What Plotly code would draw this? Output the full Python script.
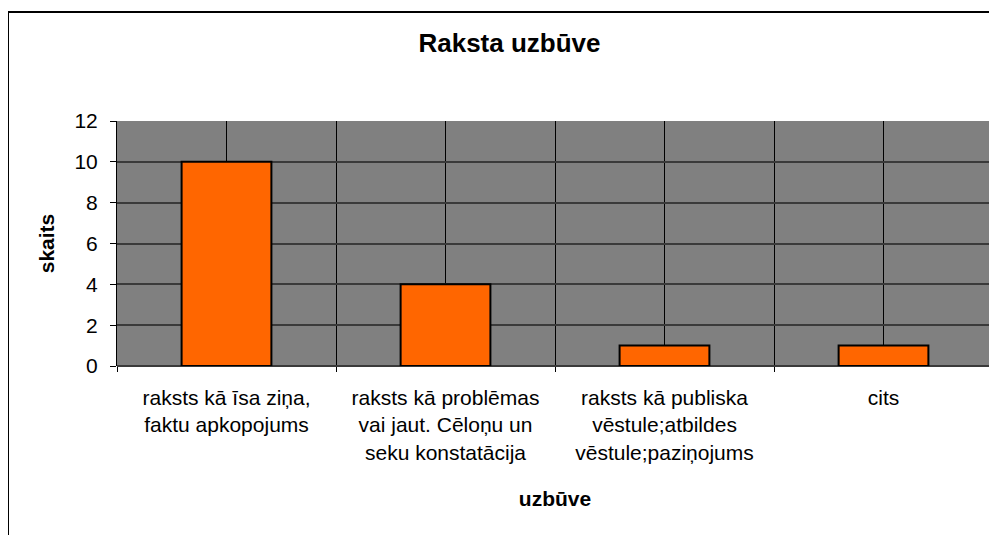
import plotly.graph_objects as go

categories = [
    "raksts kā īsa ziņa,<br>faktu apkopojums",
    "raksts kā problēmas<br>vai jaut. Cēloņu un<br>seku konstatācija",
    "raksts kā publiska<br>vēstule;atbildes<br>vēstule;paziņojums",
    "cits",
]
values = [10, 4, 1, 1]
y_ticks = [0, 2, 4, 6, 8, 10, 12]

title_text = "Raksta uzbūve"
x_title = "uzbūve"
y_title = "skaits"

FONT = "Liberation Sans, Arial, sans-serif"
positions = list(range(len(categories)))
boundaries = [p - 0.5 for p in positions] + [positions[-1] + 0.5]

# page has an 8px body margin; lay out in figure coordinates
OFF = 8
W, H = 997, 535
L = 117 - OFF
T = 121 - OFF
R = W - (993 - OFF)
B = H - (366 - OFF)
pw = W - L - R
ph = H - T - B

fig = go.Figure()
fig.add_trace(go.Bar(
    x=positions, y=values,
    marker=dict(color="#FF6600", line=dict(color="black", width=2)),
    showlegend=False,
))

fig.update_layout(
    width=W, height=H,
    margin=dict(l=L, r=R, t=T, b=B, autoexpand=False),
    paper_bgcolor="white",
    plot_bgcolor="#808080",
    bargap=0.59,
    font=dict(family=FONT, size=21, color="black"),
    title=dict(text="<b>" + title_text + "</b>", x=(509.5 - OFF) / W, xanchor="center",
               y=1 - (43 - OFF) / H, yanchor="middle", yref="container",
               font=dict(family=FONT, size=26, color="black")),
    xaxis=dict(
        range=[-0.5, len(categories) - 0.5],
        tickmode="array", tickvals=positions, ticktext=categories,
        ticks="", showgrid=True, gridcolor="black", gridwidth=1,
        ticklabelstandoff=17,
        minor=dict(tickmode="array", tickvals=boundaries, ticks="outside",
                   ticklen=5, tickcolor="black", tickwidth=1,
                   showgrid=True, gridcolor="black", gridwidth=1),
        showline=False, zeroline=False,
        title=dict(text="<b>" + x_title + "</b>", standoff=28,
                   font=dict(family=FONT, size=21)),
        automargin=False,
    ),
    yaxis=dict(
        range=[0, 12], tickmode="array", tickvals=y_ticks,
        ticks="outside", ticklen=6, tickcolor="black", tickwidth=1,
        showline=True, linecolor="black", linewidth=1,
        showgrid=True, gridcolor="#3a3a3a", gridwidth=1.5,
        zeroline=True, zerolinecolor="#3a3a3a", zerolinewidth=1.5,
        ticklabelstandoff=8,
        title=dict(text="<b>" + y_title + "</b>", standoff=14,
                   font=dict(family=FONT, size=21)),
        automargin=False,
    ),
    shapes=[dict(
        type="rect", xref="paper", yref="paper",
        x0=(8 - OFF - L) / pw, x1=1.2,
        y0=-2, y1=1 + (T - (12 - OFF)) / ph,
        line=dict(color="black", width=2), fillcolor="rgba(0,0,0,0)",
        layer="above",
    )],
)

fig.write_html("out.html")
